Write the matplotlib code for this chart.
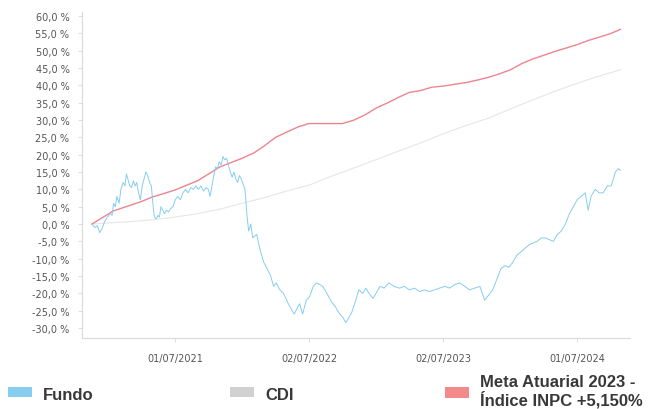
import matplotlib
matplotlib.use("Agg")
import matplotlib.pyplot as plt
from matplotlib.patches import Rectangle
import pandas as pd

# Fundo (cumulative return, %)
fundo_dates = [
    "2020-11-17", "2020-11-25", "2020-12-02", "2020-12-08", "2020-12-14", "2020-12-21", "2020-12-29",
    "2021-01-06", "2021-01-11", "2021-01-15", "2021-01-20", "2021-01-24", "2021-01-30",
    "2021-02-04", "2021-02-10", "2021-02-15", "2021-02-19", "2021-02-23", "2021-02-28",
    "2021-03-05", "2021-03-10", "2021-03-15", "2021-03-19", "2021-03-24", "2021-03-29",
    "2021-04-03", "2021-04-08", "2021-04-13", "2021-04-18", "2021-04-23", "2021-04-28",
    "2021-05-02", "2021-05-06", "2021-05-11", "2021-05-16", "2021-05-20", "2021-05-24", "2021-05-29",
    "2021-06-03", "2021-06-08", "2021-06-14", "2021-06-20", "2021-06-26",
    "2021-07-02", "2021-07-09", "2021-07-16", "2021-07-23", "2021-07-30",
    "2021-08-06", "2021-08-13", "2021-08-20", "2021-08-27",
    "2021-09-03", "2021-09-10", "2021-09-17", "2021-09-24", "2021-09-30",
    "2021-10-05", "2021-10-10", "2021-10-15", "2021-10-20", "2021-10-25", "2021-10-30",
    "2021-11-04", "2021-11-09", "2021-11-14", "2021-11-19", "2021-11-24", "2021-11-29",
    "2021-12-04", "2021-12-09", "2021-12-14", "2021-12-19", "2021-12-24", "2021-12-29",
    "2022-01-03", "2022-01-08", "2022-01-13", "2022-01-18", "2022-01-24", "2022-01-29",
    "2022-02-09", "2022-02-17", "2022-02-28", "2022-03-10", "2022-03-19", "2022-03-27",
    "2022-04-03", "2022-04-13", "2022-04-23", "2022-05-06", "2022-05-22", "2022-06-01",
    "2022-06-06", "2022-06-14", "2022-06-24", "2022-07-03", "2022-07-13", "2022-07-22",
    "2022-07-31", "2022-08-08", "2022-08-19", "2022-09-01", "2022-09-12", "2022-09-20",
    "2022-10-02", "2022-10-10", "2022-10-18", "2022-10-26", "2022-11-06", "2022-11-14",
    "2022-11-25", "2022-12-03", "2022-12-12", "2022-12-23", "2022-12-31", "2023-01-11",
    "2023-01-22", "2023-02-04", "2023-02-18", "2023-03-05", "2023-03-18", "2023-04-01",
    "2023-04-15", "2023-04-29", "2023-05-12", "2023-05-26", "2023-06-09", "2023-06-22",
    "2023-07-06", "2023-07-20", "2023-08-02", "2023-08-16", "2023-08-30", "2023-09-12",
    "2023-09-26", "2023-10-10", "2023-10-23", "2023-11-03", "2023-11-14", "2023-11-25",
    "2023-12-06", "2023-12-17", "2023-12-28", "2024-01-08", "2024-01-19", "2024-01-30",
    "2024-02-10", "2024-02-21", "2024-03-03", "2024-03-14", "2024-03-25", "2024-04-05",
    "2024-04-16", "2024-04-27", "2024-05-08", "2024-05-19", "2024-05-30", "2024-06-10",
    "2024-06-21", "2024-07-01", "2024-07-12", "2024-07-23", "2024-07-31", "2024-08-08",
    "2024-08-19", "2024-08-30", "2024-09-10", "2024-09-21", "2024-10-02", "2024-10-13",
    "2024-10-21", "2024-10-27",
]
fundo_vals = [
    0, -1, -0.5, -2.5, -1.5, 0.5, 2,
    3, 2.5, 6, 5, 8, 6,
    10, 12, 11, 14.5, 13, 11,
    10.5, 12.5, 11, 12, 9, 7,
    11, 13, 15, 14, 12, 11,
    6, 2, 1.5, 2.5, 2, 5, 4,
    3, 4, 3.5, 4.5, 5,
    7, 8, 7, 9, 10,
    9, 10.5, 10, 11,
    10, 11, 9.5, 10.5, 10,
    8, 11, 14, 16.5, 16, 18,
    17, 19.5, 18.5, 19, 17, 15,
    13.5, 15, 13, 12, 14, 13,
    11.5, 10, 3, -2, 0, -4,
    -3, -7, -11, -13, -15, -18,
    -17, -19, -20, -23, -26, -24,
    -23, -26, -22, -21, -18, -17,
    -17.5, -18, -20, -22.5, -24, -25.5,
    -27, -28.5, -27, -25.5, -22, -19,
    -20, -18.5, -20, -21.5, -20, -18,
    -18.5, -17, -18, -18.5, -18, -19,
    -18.5, -19.5, -19, -19.5, -19, -18.5,
    -18, -18.5, -17.5, -17, -18, -19,
    -18.5, -18, -22, -20.5, -19, -16,
    -13, -12, -12.5, -11, -9, -8,
    -7, -6, -5.5, -5, -4, -4,
    -4.5, -5, -3, -2, 0, 3,
    5, 7, 8, 9, 4, 8,
    10, 9, 9, 11, 11, 15,
    16, 15.5,
]

# CDI
cdi_dates = [
    "2020-11-17", "2021-01-01", "2021-03-01", "2021-05-01", "2021-07-01", "2021-09-01",
    "2021-11-01", "2022-01-01", "2022-03-01", "2022-05-01", "2022-07-01", "2022-09-01",
    "2022-11-01", "2023-01-01", "2023-03-01", "2023-05-01", "2023-07-01", "2023-09-01",
    "2023-11-01", "2024-01-01", "2024-03-01", "2024-05-01", "2024-07-01", "2024-09-01",
    "2024-10-27",
]
cdi_vals = [
    0, 0.3, 0.7, 1.2, 2.0, 3.0,
    4.3, 6.0, 7.6, 9.5, 11.2, 13.8,
    16.2, 18.6, 21.0, 23.4, 26.0, 28.4,
    30.5, 33.2, 35.8, 38.3, 40.6, 42.8,
    44.5,
]

# Meta Atuarial 2023 - Indice INPC +5,150%
meta_dates = [
    "2020-11-17", "2021-01-15", "2021-04-01", "2021-05-01", "2021-07-01", "2021-09-01",
    "2021-11-01", "2022-01-01", "2022-02-01", "2022-03-01", "2022-04-01", "2022-05-01",
    "2022-06-01", "2022-07-01", "2022-10-01", "2022-11-01", "2022-12-01", "2023-01-01",
    "2023-02-01", "2023-03-01", "2023-04-01", "2023-05-01", "2023-06-01", "2023-07-01",
    "2023-08-01", "2023-09-01", "2023-10-01", "2023-11-01", "2023-12-01", "2024-01-01",
    "2024-02-01", "2024-03-01", "2024-04-01", "2024-05-01", "2024-06-01", "2024-07-01",
    "2024-08-01", "2024-09-01", "2024-10-01", "2024-10-27",
]
meta_vals = [
    0, 3.8, 6.5, 7.8, 9.8, 12.5,
    16.5, 19, 20.5, 22.5, 25, 26.5,
    28, 29, 29, 30, 31.5, 33.5,
    35, 36.5, 38, 38.5, 39.5, 39.8,
    40.3, 40.8, 41.5, 42.3, 43.3, 44.5,
    46.3, 47.6, 48.7, 49.8, 50.8, 51.8,
    53, 54, 55, 56.2,
]

xtick_dates = ["2021-07-01", "2022-07-02", "2023-07-02", "2024-07-01"]
xtick_labels = ["01/07/2021", "02/07/2022", "02/07/2023", "01/07/2024"]
ytick_vals = list(range(-30, 61, 5))

c_fundo = "#86cdf0"
c_cdi = "#e6e6e6"
c_meta = "#ec858d"

fig = plt.figure(figsize=(6.53, 4.10), dpi=100)
ax = fig.add_axes([82 / 653, 1 - 339 / 410, (630 - 82) / 653, (339 - 13) / 410])

ax.plot(pd.to_datetime(cdi_dates), cdi_vals, color=c_cdi, lw=0.8)
ax.plot(pd.to_datetime(meta_dates), meta_vals, color=c_meta, lw=1.0)
ax.plot(pd.to_datetime(fundo_dates), fundo_vals, color=c_fundo, lw=0.7)

ax.set_xlim(pd.Timestamp("2020-10-21"), pd.Timestamp("2024-11-22"))
ax.set_ylim(-32.9, 61.2)

ax.set_yticks(ytick_vals)
ax.set_yticklabels([f"{v:.1f} %".replace(".", ",") for v in ytick_vals])
ax.set_xticks(pd.to_datetime(xtick_dates))
ax.set_xticklabels(xtick_labels)

for s in ["top", "right"]:
    ax.spines[s].set_visible(False)
for s in ["left", "bottom"]:
    ax.spines[s].set_color("#d9d9d9")
    ax.spines[s].set_linewidth(0.8)
ax.tick_params(axis="both", length=3, width=0.6, color="#d9d9d9",
               labelsize=7, labelcolor="#555555")
ax.tick_params(axis="x", pad=8)
ax.tick_params(axis="y", pad=6)

# legend at the bottom
leg_font = dict(family=["Liberation Sans", "DejaVu Sans"], fontsize=12,
                fontweight="bold", color="#383838")
items = [
    (8, c_fundo, 43, "Fundo"),
    (230, "#d0d0d0", 265, "CDI"),
]
for px, col, tx, label in items:
    fig.add_artist(Rectangle((px / 653, 1 - 398 / 410), 24 / 653, 10 / 410,
                             transform=fig.transFigure, color=col, lw=0))
    fig.text(tx / 653, 1 - 400 / 410, label, va="baseline", ha="left", **leg_font)

fig.add_artist(Rectangle((445 / 653, 1 - 399 / 410), 24 / 653, 11 / 410,
                         transform=fig.transFigure, color="#f28a8a", lw=0))
fig.text(480 / 653, 1 - 387 / 410, "Meta Atuarial 2023 -", va="baseline", ha="left", **leg_font)
fig.text(480 / 653, 1 - 406 / 410, "Índice INPC +5,150%", va="baseline", ha="left", **leg_font)

fig.savefig("out.png", dpi=100)
